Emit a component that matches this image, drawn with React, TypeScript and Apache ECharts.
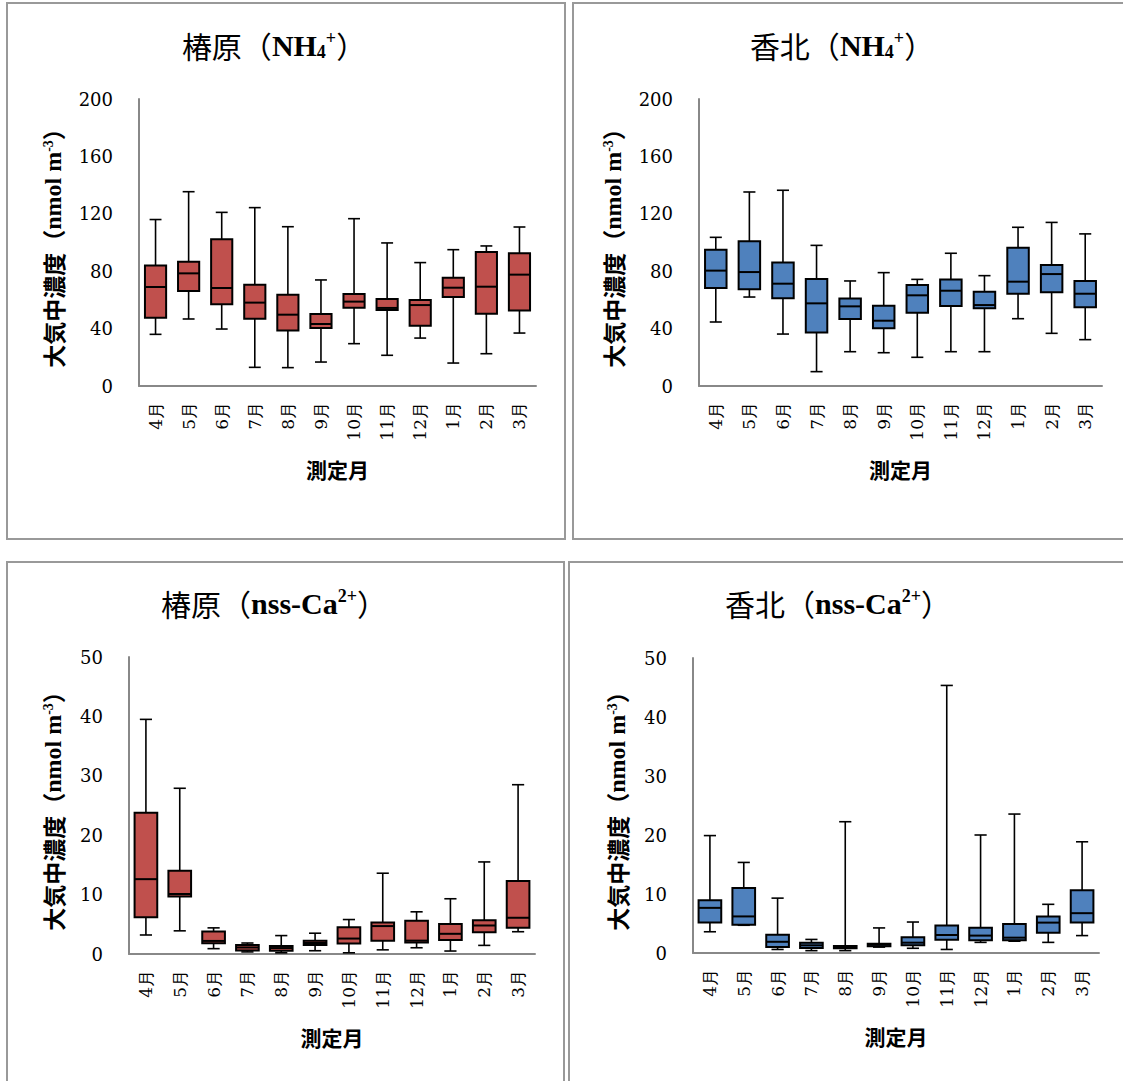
import React, { useEffect, useRef } from "react";
import * as echarts from "echarts";

const months = ["4月", "5月", "6月", "7月", "8月", "9月", "10月", "11月", "12月", "1月", "2月", "3月"];

// each row: [min, q1, median, q3, max]
const tsubaharaNH4 = [
  [36, 47.6, 69, 83.9, 116],
  [46.7, 66.2, 78.5, 86.6, 135.4],
  [39.7, 56.9, 68.3, 102.2, 121],
  [13, 46.9, 58.1, 70.6, 124.3],
  [12.8, 38.6, 49.7, 63.6, 111],
  [16.7, 40.4, 43.2, 50.2, 73.9],
  [29.5, 54.6, 58.8, 64.1, 116.6],
  [21.4, 53, 54.4, 60.6, 99.7],
  [33.4, 42, 56.4, 59.9, 86],
  [16, 62, 68.5, 75.5, 95],
  [22.5, 50.4, 69.2, 93.4, 97.6],
  [36.9, 52.7, 77.6, 92.5, 110.8],
];

const kahokuNH4 = [
  [44.6, 68.3, 80.4, 95, 103.6],
  [62, 67.4, 79.4, 100.8, 135.2],
  [36.2, 61.1, 71.3, 86, 136.4],
  [10, 37.2, 57.6, 74.6, 98],
  [23.9, 46.7, 55.5, 60.9, 73.2],
  [23.2, 40.2, 45.5, 56, 79],
  [20, 51.1, 63.2, 70.4, 74.3],
  [23.9, 55.7, 66.4, 74.3, 92.5],
  [23.9, 54.1, 56.4, 65.7, 76.9],
  [46.9, 64.3, 72.7, 96.4, 110.6],
  [36.7, 65.3, 78, 84.3, 114],
  [32.3, 54.8, 64.3, 73.2, 106],
];

const tsubaharaCa = [
  [3.2, 6.2, 12.6, 23.8, 39.5],
  [3.9, 9.7, 10.1, 14, 27.9],
  [0.9, 1.8, 2.2, 3.8, 4.4],
  [0.35, 0.6, 1.1, 1.5, 1.85],
  [0.2, 0.55, 1.0, 1.35, 3.1],
  [0.55, 1.5, 1.85, 2.25, 3.5],
  [0.2, 1.75, 2.6, 4.5, 5.8],
  [0.7, 2.25, 4.7, 5.3, 13.6],
  [1.05, 1.95, 2.25, 5.6, 7.1],
  [0.5, 2.35, 3.4, 5.05, 9.3],
  [1.45, 3.65, 4.8, 5.7, 15.5],
  [3.75, 4.4, 6.1, 12.3, 28.5],
];

const kahokuCa = [
  [3.6, 5.15, 7.65, 8.95, 19.9],
  [4.7, 4.8, 6.2, 11.0, 15.35],
  [0.6, 1.0, 1.9, 3.1, 9.3],
  [0.4, 0.85, 1.3, 1.75, 2.3],
  [0.4, 0.8, 1.0, 1.2, 22.25],
  [1.0, 1.15, 1.4, 1.55, 4.25],
  [0.8, 1.3, 1.75, 2.65, 5.25],
  [0.6, 2.25, 3.05, 4.65, 45.35],
  [1.8, 2.15, 2.95, 4.3, 20.0],
  [2.0, 2.15, 2.6, 4.9, 23.55],
  [1.8, 3.45, 5.15, 6.2, 8.25],
  [2.95, 5.15, 6.75, 10.65, 18.85],
];

const RED = "#C0504D";
const BLUE = "#4F81BD";
const SERIF = "DejaVu Serif";
const CJK = "Noto Sans CJK JP";

function makeRender(color: string, boxFrac: number) {
  return (params: any, api: any) => {
    const x = api.value(0);
    const lo = api.coord([x, api.value(1)]);
    const q1 = api.coord([x, api.value(2)]);
    const med = api.coord([x, api.value(3)]);
    const q3 = api.coord([x, api.value(4)]);
    const hi = api.coord([x, api.value(5)]);
    const band = api.size([1, 0])[0];
    const bw = band * boxFrac;
    const cw = band * 0.36;
    const cx = lo[0];
    const ls = { stroke: "#000", lineWidth: 1.6 };
    return {
      type: "group",
      children: [
        { type: "line", shape: { x1: cx, y1: hi[1], x2: cx, y2: q3[1] }, style: ls },
        { type: "line", shape: { x1: cx, y1: q1[1], x2: cx, y2: lo[1] }, style: ls },
        { type: "line", shape: { x1: cx - cw / 2, y1: hi[1], x2: cx + cw / 2, y2: hi[1] }, style: ls },
        { type: "line", shape: { x1: cx - cw / 2, y1: lo[1], x2: cx + cw / 2, y2: lo[1] }, style: ls },
        {
          type: "rect",
          shape: { x: cx - bw / 2, y: q3[1], width: bw, height: q1[1] - q3[1] },
          style: { fill: color, stroke: "#000", lineWidth: 2 },
        },
        {
          type: "line",
          shape: { x1: cx - bw / 2, y1: med[1], x2: cx + bw / 2, y2: med[1] },
          style: { stroke: "#000", lineWidth: 2 },
        },
      ],
    };
  };
}

const titleRich = {
  k: { fontFamily: CJK, fontSize: 30, color: "#000" },
  l: { fontFamily: "Liberation Serif", fontWeight: "bold", fontSize: 30, color: "#000" },
  sub: { fontFamily: "Liberation Serif", fontWeight: "bold", fontSize: 18, color: "#000", verticalAlign: "bottom", padding: [14, 0, 0, 0] },
  sup: { fontFamily: "Liberation Serif", fontWeight: "bold", fontSize: 18, color: "#000", verticalAlign: "top", padding: [0, 0, 14, 0] },
};

const yNameRich = {
  k: { fontFamily: CJK, fontWeight: "bold", fontSize: 23, color: "#000" },
  l: { fontFamily: "Liberation Serif", fontWeight: "bold", fontSize: 24, color: "#000" },
  sup: { fontFamily: "Liberation Serif", fontWeight: "bold", fontSize: 14, color: "#000", verticalAlign: "top", padding: [0, 0, 10, 0] },
};

const grids = [
  { left: 139, top: 99, width: 397, height: 287 },
  { left: 699, top: 99, width: 403, height: 287 },
  { left: 129, top: 657, width: 406, height: 297 },
  { left: 693, top: 658, width: 406, height: 295 },
];

const panels = [
  { data: tsubaharaNH4, color: RED, max: 200, interval: 40, frac: 0.64 },
  { data: kahokuNH4, color: BLUE, max: 200, interval: 40, frac: 0.64 },
  { data: tsubaharaCa, color: RED, max: 50, interval: 10, frac: 0.67 },
  { data: kahokuCa, color: BLUE, max: 50, interval: 10, frac: 0.67 },
];

const yAxisName = "{k|大気中濃度（}{l|nmol m}{sup|-3}{k|）}";

export default function App() {
  const ref = useRef<HTMLDivElement>(null);
  useEffect(() => {
    if (!ref.current) return;
    const chart = echarts.init(ref.current, undefined, { renderer: "svg" });
    const option: any = {
      animation: false,
      backgroundColor: "#fff",
      grid: grids.map((g) => ({ ...g, containLabel: false })),
      xAxis: panels.map((p, i) => ({
        type: "category",
        gridIndex: i,
        data: months,
        axisLine: { lineStyle: { color: "#888", width: 2 } },
        axisTick: { show: false },
        axisLabel: { rotate: 90, fontSize: 17, fontFamily: SERIF, color: "#000", margin: 16 },
        name: "測定月",
        nameLocation: "middle",
        nameGap: 72,
        nameTextStyle: { fontSize: 21, fontWeight: "bold", fontFamily: CJK, color: "#000" },
      })),
      yAxis: panels.map((p, i) => ({
        type: "value",
        gridIndex: i,
        min: 0,
        max: p.max,
        interval: p.interval,
        axisLine: { show: true, lineStyle: { color: "#888", width: 2 } },
        axisTick: { show: false },
        splitLine: { show: false },
        axisLabel: { fontSize: 18, fontFamily: SERIF, color: "#000", margin: 26 },
        name: yAxisName,
        nameLocation: "middle",
        nameRotate: 90,
        nameGap: i >= 2 ? 64 : 74,
        nameTextStyle: { rich: yNameRich },
      })),
      series: panels.map((p, i) => ({
        type: "custom",
        xAxisIndex: i,
        yAxisIndex: i,
        renderItem: makeRender(p.color, p.frac),
        encode: { x: 0, y: [1, 2, 3, 4, 5] },
        data: p.data.map((r, j) => [j, ...r]),
      })),
      graphic: [
        { type: "rect", shape: { x: 7, y: 3, width: 558, height: 536 }, style: { fill: "none", stroke: "#999", lineWidth: 2 } },
        { type: "rect", shape: { x: 573, y: 3, width: 560, height: 536 }, style: { fill: "none", stroke: "#999", lineWidth: 2 } },
        { type: "rect", shape: { x: 7, y: 562, width: 557, height: 530 }, style: { fill: "none", stroke: "#999", lineWidth: 2 } },
        { type: "rect", shape: { x: 569, y: 562, width: 560, height: 530 }, style: { fill: "none", stroke: "#999", lineWidth: 2 } },
        { type: "text", x: 274, y: 45, style: { text: "{k|椿原（}{l|NH}{sub|4}{sup|+}{k|）}", rich: titleRich, align: "center", verticalAlign: "middle" } },
        { type: "text", x: 842, y: 45, style: { text: "{k|香北（}{l|NH}{sub|4}{sup|+}{k|）}", rich: titleRich, align: "center", verticalAlign: "middle" } },
        { type: "text", x: 274, y: 603, style: { text: "{k|椿原（}{l|nss-Ca}{sup|2+}{k|）}", rich: titleRich, align: "center", verticalAlign: "middle" } },
        { type: "text", x: 838, y: 603, style: { text: "{k|香北（}{l|nss-Ca}{sup|2+}{k|）}", rich: titleRich, align: "center", verticalAlign: "middle" } },
      ],
    };
    chart.setOption(option);
    return () => chart.dispose();
  }, []);
  return (
    <div
      ref={ref}
      style={{ position: "fixed", left: 0, top: 0, width: 1123, height: 1081, background: "#fff" }}
    />
  );
}
